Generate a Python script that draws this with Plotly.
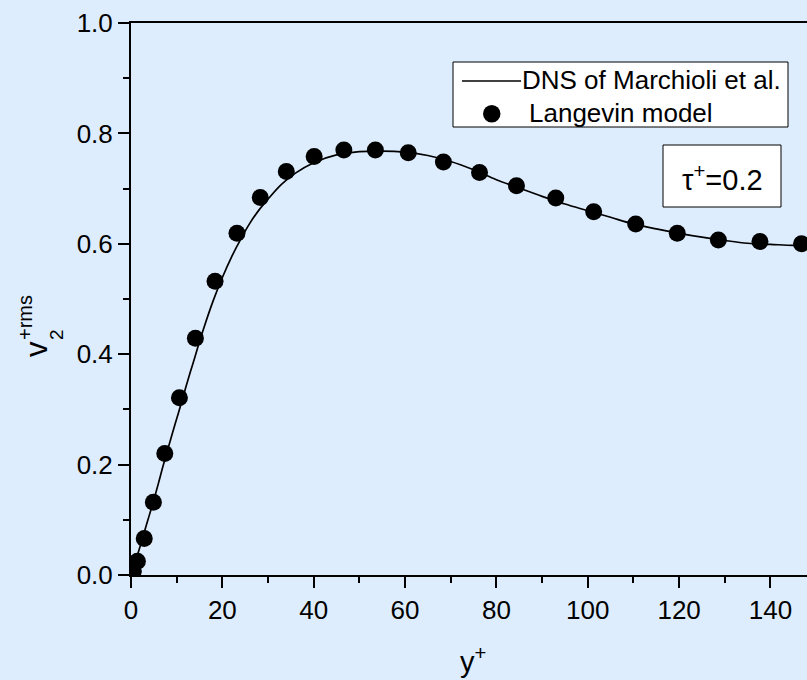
import plotly.graph_objects as go

# DNS of Marchioli et al. (solid curve)
dns_x = [0, 1, 2, 3, 4, 5, 6, 7, 8, 9, 10, 11, 12, 13, 14, 15, 16, 18, 20, 22, 24, 26, 28, 30,
         33, 36, 40, 45, 50, 55, 60, 65, 70, 75, 80, 85, 90, 95, 100, 105, 110, 115, 120, 125,
         130, 135, 140, 145, 148]
dns_y = [0, 0.025, 0.052, 0.080, 0.108, 0.136, 0.166, 0.197, 0.226, 0.255, 0.283, 0.311, 0.340,
         0.368, 0.395, 0.423, 0.449, 0.497, 0.539, 0.576, 0.608, 0.637, 0.661, 0.681, 0.708,
         0.728, 0.747, 0.761, 0.767, 0.768, 0.766, 0.760, 0.749, 0.734, 0.716, 0.701, 0.686,
         0.672, 0.660, 0.648, 0.636, 0.627, 0.619, 0.612, 0.606, 0.601, 0.599, 0.597, 0.597]

# Langevin model (filled circles)
lang_x = [0.5, 1.4, 2.9, 4.9, 7.4, 10.6, 14.1, 18.4, 23.2, 28.3, 34.0, 40.1, 46.6, 53.5, 60.7,
          68.4, 76.3, 84.4, 93.0, 101.3, 110.5, 119.6, 128.6, 137.7, 146.8]
lang_y = [0.007, 0.025, 0.066, 0.132, 0.220, 0.321, 0.429, 0.532, 0.619, 0.684, 0.731, 0.758,
          0.770, 0.770, 0.765, 0.748, 0.729, 0.705, 0.683, 0.658, 0.636, 0.619, 0.607, 0.604,
          0.600]

x_ticks = [0, 20, 40, 60, 80, 100, 120, 140]
y_ticks = [0.0, 0.2, 0.4, 0.6, 0.8, 1.0]
legend_labels = ["DNS of Marchioli et al.", "Langevin model"]

BG = "#DEEDFD"
FONT = "Liberation Sans, Arial, sans-serif"
W, H = 807, 680
L, R, T, B = 131, 0, 23, 105
PW, PH = W - L - R, H - T - B


def px(x):
    return (x - L) / PW


def py(y):
    return (H - B - y) / PH


fig = go.Figure()
fig.add_trace(go.Scatter(x=dns_x, y=dns_y, mode="lines", line=dict(color="black", width=1.7, shape="spline"),
                         name=legend_labels[0], showlegend=False))
fig.add_trace(go.Scatter(x=lang_x, y=lang_y, mode="markers", marker=dict(color="black", size=17),
                         name=legend_labels[1], showlegend=False))

fig.update_layout(
    width=W, height=H,
    margin=dict(l=L, r=R, t=T, b=B, pad=0),
    paper_bgcolor=BG, plot_bgcolor=BG,
    font=dict(family=FONT, size=26, color="black"),
    showlegend=False,
)
fig.update_xaxes(range=[0, 148], tickvals=x_ticks, ticks="outside", ticklen=11, tickwidth=2,
                 tickcolor="black", showline=True, linecolor="black", linewidth=2, mirror=True,
                 showgrid=False, zeroline=False, tickfont=dict(size=26),
                 minor=dict(dtick=10, tick0=0, ticks="outside", ticklen=6, tickwidth=2, tickcolor="black"))
fig.update_yaxes(range=[0, 1], tickvals=y_ticks, tickformat=".1f", ticks="outside", ticklen=11,
                 tickwidth=2, tickcolor="black", showline=True, linecolor="black", linewidth=2,
                 showgrid=False, zeroline=False, tickfont=dict(size=26),
                 minor=dict(dtick=0.1, tick0=0, ticks="outside", ticklen=6, tickwidth=2, tickcolor="black"))

shapes = []
annotations = []
# legend box
shapes.append(dict(type="rect", xref="paper", yref="paper", x0=px(453), x1=px(788), y0=py(127), y1=py(62),
                   line=dict(color="black", width=1), fillcolor="white", layer="above"))
shapes.append(dict(type="line", xref="paper", yref="paper", x0=px(462), x1=px(521), y0=py(81), y1=py(81),
                   line=dict(color="black", width=1.5), layer="above"))
shapes.append(dict(type="circle", xref="paper", yref="paper", x0=px(483), x1=px(500.5), y0=py(122.5), y1=py(105),
                   line=dict(color="black", width=0), fillcolor="black", layer="above"))
annotations.append(dict(xref="paper", yref="paper", x=px(520), y=py(80.5), xanchor="left", yanchor="middle",
                        text=legend_labels[0], showarrow=False, font=dict(size=26)))
annotations.append(dict(xref="paper", yref="paper", x=px(527), y=py(112.5), xanchor="left", yanchor="middle",
                        text=legend_labels[1], showarrow=False, font=dict(size=26)))
# tau box
shapes.append(dict(type="rect", xref="paper", yref="paper", x0=px(663), x1=px(781), y0=py(207), y1=py(145),
                   line=dict(color="black", width=1), fillcolor="white", layer="above"))
annotations.append(dict(xref="paper", yref="paper", x=px(722), y=py(178), xanchor="center", yanchor="middle",
                        text="τ<sup>+</sup>=0.2", showarrow=False, font=dict(size=29)))
# x title
annotations.append(dict(xref="paper", yref="paper", x=px(473), y=py(660), xanchor="center", yanchor="middle",
                        text="y<sup>+</sup>", showarrow=False, font=dict(size=29)))
# y title pieces
annotations.append(dict(xref="paper", yref="paper", x=px(36), y=py(349), xanchor="center", yanchor="middle",
                        text="v", textangle=-90, showarrow=False, font=dict(size=31)))
annotations.append(dict(xref="paper", yref="paper", x=px(56), y=py(335), xanchor="center", yanchor="middle",
                        text="2", textangle=-90, showarrow=False, font=dict(size=19)))
annotations.append(dict(xref="paper", yref="paper", x=px(25), y=py(318), xanchor="center", yanchor="middle",
                        text="+rms", textangle=-90, showarrow=False, font=dict(size=20)))

fig.update_layout(shapes=shapes, annotations=annotations)
fig.write_html("out.html")
